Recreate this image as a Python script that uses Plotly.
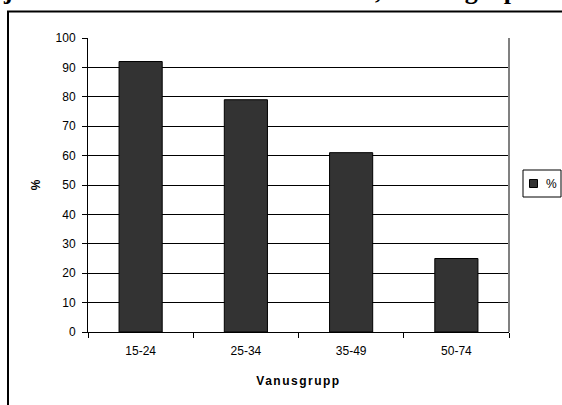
import plotly.graph_objects as go

categories = ["15-24", "25-34", "35-49", "50-74"]
values = [92, 79, 61, 25]
series_name = "%"
x_title = "Vanusgrupp"
y_title = "%"
y_ticks = [0, 10, 20, 30, 40, 50, 60, 70, 80, 90, 100]
clipped_title = "Internetikasutajad Eesti elanike seas 2004. aastal, vanusegrupis"

fig = go.Figure()
fig.add_trace(go.Bar(
    x=categories, y=values, name=series_name,
    marker=dict(color="#333333", line=dict(color="#000000", width=1)),
    showlegend=False,
))

W, H = 562, 405
L, R, T, B = 88, 53, 38, 73
pw, ph = W - L - R, H - T - B

def px_x(p):
    return (p - L) / pw

def px_y(p):
    return 1 - (p - T) / ph

font = "Liberation Sans, Arial, sans-serif"

fig.update_layout(
    width=W, height=H,
    margin=dict(l=L, r=R, t=T, b=B, pad=0),
    paper_bgcolor="white", plot_bgcolor="white",
    bargap=0.59,
    font=dict(family=font, size=12, color="black"),
    xaxis=dict(
        type="category", showgrid=False, showline=True, linecolor="black", linewidth=1,
        ticks="outside", tickson="boundaries", ticklen=5, tickcolor="black",
        tickfont=dict(size=12), mirror=False, ticklabelstandoff=8,
        title=dict(text='<b><span style="letter-spacing:1.5px">' + x_title + "</span></b>",
                   font=dict(size=12), standoff=19),
    ),
    yaxis=dict(
        range=[0, 100], tickvals=y_ticks, showgrid=True, gridcolor="black", gridwidth=1,
        showline=True, linecolor="black", linewidth=1, ticks="outside", ticklen=5,
        tickcolor="black", tickfont=dict(size=12), zeroline=False, ticklabelstandoff=4,
        title=dict(text="<b>" + y_title + "</b>", font=dict(size=12), standoff=12),
    ),
    shapes=[
        dict(type="line", xref="paper", yref="paper", x0=1, x1=1, y0=0, y1=1,
             line=dict(color="#808080", width=2)),
        dict(type="rect", xref="paper", yref="paper",
             x0=px_x(8), x1=px_x(600), y0=px_y(11.5), y1=px_y(450),
             line=dict(color="black", width=2), layer="below"),
        # legend box
        dict(type="rect", xref="paper", yref="paper",
             x0=px_x(523), x1=px_x(561), y0=px_y(170), y1=px_y(197),
             line=dict(color="black", width=1), fillcolor="white"),
        dict(type="rect", xref="paper", yref="paper",
             x0=px_x(529.5), x1=px_x(537.5), y0=px_y(179.5), y1=px_y(187.5),
             line=dict(color="black", width=1), fillcolor="#333333"),
    ],
    annotations=[
        dict(text="<b>" + clipped_title + "</b>", xref="paper", yref="paper",
             x=px_x(-170), y=px_y(7), xanchor="left", yanchor="bottom",
             showarrow=False, font=dict(family="Liberation Serif, serif", size=26)),
        dict(text=series_name, xref="paper", yref="paper",
             x=px_x(544), y=px_y(183.5), xanchor="left", yanchor="middle",
             showarrow=False, font=dict(size=12)),
    ],
)

fig.write_html("out.html", config={"displayModeBar": False},
               post_script="document.body.style.margin='0';")
